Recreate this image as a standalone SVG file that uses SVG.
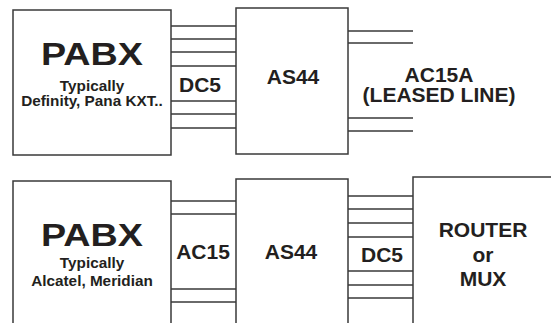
<svg xmlns="http://www.w3.org/2000/svg" width="551" height="323" viewBox="0 0 551 323">
<style>
.box{fill:none;stroke:#3a3a3a;stroke-width:1.5}
.ln{stroke:#3a3a3a;stroke-width:1.5}
text{font-family:"Liberation Sans",Arial,sans-serif;font-weight:bold;fill:#231f20;text-anchor:middle}
.big{font-size:32px}
.sub{font-size:15.3px}
.lbl{font-size:21px}
</style>
<rect width="551" height="323" fill="#fff"/>
<g id="pabx1">
<rect class="box" x="13" y="10" width="158" height="145"/>
<text class="big" x="92" y="65" textLength="102" lengthAdjust="spacingAndGlyphs">PABX</text>
<text class="sub" x="92" y="91">Typically</text>
<text class="sub" x="92" y="106">Definity, Pana KXT..</text>
</g>
<g id="as44a">
<rect class="box" x="236" y="8" width="112" height="146"/>
<text class="lbl" x="293" y="84">AS44</text>
</g>
<g id="pabx2">
<path class="box" d="M13,323 V181 H171 V323"/>
<text class="big" x="92" y="246" textLength="102" lengthAdjust="spacingAndGlyphs">PABX</text>
<text class="sub" x="92" y="268">Typically</text>
<text class="sub" x="92" y="286">Alcatel, Meridian</text>
</g>
<g id="as44b">
<path class="box" d="M236,323 V179 H348 V323"/>
<text class="lbl" x="291" y="259">AS44</text>
</g>
<g id="router">
<path class="box" d="M413,323 V177 H551"/>
<text class="lbl" x="483" y="237">ROUTER</text>
<text class="lbl" x="483" y="262">or</text>
<text class="lbl" x="483" y="286">MUX</text>
</g>
<g id="connectors">
<path class="ln" d="M171,26H236M171,39H236M171,52H236M171,66H236M171,101H236M171,114H236M171,128H236"/>
<path class="ln" d="M348,31H413M348,43H413M348,118H413M348,131H413"/>
<path class="ln" d="M171,201H236M171,214H236M171,289H236M171,302H236"/>
<path class="ln" d="M348,196H413M348,209H413M348,223H413M348,237H413M348,271H413M348,285H413M348,298H413"/>
<text class="lbl" x="200" y="92">DC5</text>
<text class="lbl" x="439" y="82">AC15A</text>
<text class="lbl" x="439" y="102">(LEASED LINE)</text>
<text class="lbl" x="203" y="259">AC15</text>
<text class="lbl" x="382" y="262">DC5</text>
</g>
</svg>
